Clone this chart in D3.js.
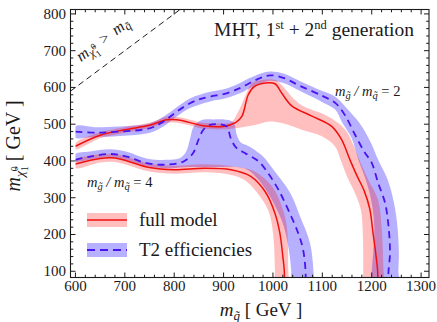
<!DOCTYPE html>
<html><head><meta charset="utf-8">
<script src="https://cdn.jsdelivr.net/npm/d3@7"></script>
<style>
body{margin:0;background:#fff}
</style></head><body>
<svg id="chart" width="437" height="322" font-family="'Liberation Serif', 'Times New Roman', 'DejaVu Serif', serif"></svg>
<script>
// Exclusion contours in the squark / neutralino mass plane (GeV)
const xTicks = [600, 700, 800, 900, 1000, 1100, 1200, 1300];
const yTicks = [100, 200, 300, 400, 500, 600, 700, 800];

// m_gluino / m_squark = 2 : full model (central line and band edges)
const full2Line = [[600,440],[650,470],[700,485],[750,497],[785,512],[805,512],[830,505],[858,496],[900,494],[925,505],[937,521],[950,580],[962,602],[985,612],[1004,610],[1018,584],[1038,550],[1079,522],[1119,494],[1139,458],[1156,403],[1170,360],[1185,318],[1196,270],[1203,200],[1208,150],[1212,100],[1212,70]];
const full2Hi = [[600,448],[650,478],[700,492],[750,504],[785,520],[805,520],[830,513],[858,504],[895,502],[915,505],[932,540],[945,580],[958,612],[980,621],[1005,620],[1020,603],[1040,572],[1060,550],[1106,525],[1132,503],[1150,478],[1164,440],[1175,403],[1193,349],[1213,294],[1220,222],[1224,100],[1225,60]];
const full2Lo = [[600,432],[650,462],[700,477],[750,490],[785,504],[805,504],[830,497],[858,488],[900,486],[923,489],[963,498],[990,507],[1018,503],[1058,485],[1099,467],[1126,439],[1137,403],[1150,358],[1166,313],[1178,267],[1182,200],[1183,100],[1183,60]];

// m_gluino / m_squark = 2 : T2 efficiencies
const t2Line2 = [[600,480],[643,477],[690,480],[751,489],[778,507],[805,534],[832,557],[852,568],[873,575],[906,584],[933,598],[953,612],[975,626],[994,633],[1021,626],[1055,604],[1100,577],[1126,558],[1146,524],[1166,472],[1185,425],[1200,395],[1213,340],[1227,286],[1234,222],[1237,150],[1234,100],[1233,70]];
const t2Hi2 = [[600,494],[640,492],[690,494],[750,502],[778,520],[805,546],[832,570],[873,588],[906,597],[933,612],[953,626],[990,643],[1021,638],[1055,617],[1100,590],[1126,575],[1155,535],[1180,494],[1200,445],[1213,403],[1232,350],[1245,286],[1252,222],[1255,150],[1254,100],[1254,60]];
const t2Lo2 = [[600,463],[620,463],[643,465],[690,468],[751,477],[778,494],[805,521],[832,544],[873,562],[906,571],[933,584],[953,598],[994,618],[1021,612],[1055,590],[1100,560],[1126,540],[1140,505],[1160,460],[1173,403],[1190,340],[1200,285],[1205,222],[1203,150],[1200,100],[1200,60]];

// m_gluino / m_squark = 4 : full model
const full4Line = [[600,392],[650,407],[680,408],[705,400],[750,382],[800,376],[860,380],[915,376],[955,358],[985,315],[1004,258],[1014,204],[1020,140],[1023,100],[1023,70]];
const full4Hi = [[600,402],[650,418],[680,419],[705,411],[750,393],[800,387],[860,391],[915,386],[963,371],[998,331],[1018,276],[1028,222],[1031,100],[1031,60]];
const full4Lo = [[600,381],[650,396],[680,397],[705,389],[750,371],[800,365],[860,369],[915,362],[940,350],[963,322],[990,267],[1000,204],[1004,100],[1004,60]];

// m_gluino / m_squark = 4 : T2 efficiencies
const t2Line4 = [[600,403],[630,412],[670,419],[704,412],[744,394],[785,390],[818,398],[838,421],[849,457],[859,485],[872,498],[890,500],[906,494],[915,460],[925,437],[945,420],[970,400],[990,367],[1011,322],[1031,267],[1051,204],[1061,159],[1066,100],[1066,70]];
const t2Hi4 = [[600,419],[630,426],[670,432],[704,425],[744,407],[785,403],[812,408],[824,425],[832,460],[840,495],[855,511],[880,513],[905,512],[920,505],[927,470],[935,450],[953,439],[980,412],[1001,376],[1035,313],[1055,249],[1075,177],[1082,100],[1082,60]];
const t2Lo4 = [[600,399],[630,404],[670,410],[704,402],[744,386],[785,380],[820,383],[880,383],[930,383],[950,375],[970,350],[990,312],[1008,267],[1022,222],[1032,160],[1037,100],[1038,60]];

const x = d3.scaleLinear().domain([590, 1316]).range([70.5, 429]);
const y = d3.scaleLinear().domain([83, 812]).range([277.5, 9.5]);

const svg = d3.select("#chart");
const [x0, x1] = x.range(), [y0, y1] = y.range();
const INK = "#1a1a1a";

const defs = svg.append("defs");
defs.append("clipPath").attr("id", "plot")
  .append("rect").attr("x", x(600)).attr("y", y1).attr("width", x1 - x(600)).attr("height", y0 - y1);
defs.append("clipPath").attr("id", "frame")
  .append("rect").attr("x", x0).attr("y", y1).attr("width", x1 - x0).attr("height", y0 - y1);

const curveLine = d3.line().x(d => x(d[0])).y(d => y(d[1])).curve(d3.curveCatmullRom.alpha(0.5));
const bandPath = d3.line().x(d => x(d[0])).y(d => y(d[1])).curve(d3.curveCatmullRomClosed.alpha(0.5));

const RED = "#f01010", BLUE = "#4a14ee";
const PINK_FILL = "rgb(255,0,0)", PINK_OP = 0.25;
const BLUE_FILL = "rgb(30,10,255)", BLUE_OP = 0.32;

const g = svg.append("g").attr("clip-path", "url(#plot)");
// uncertainty bands
[[t2Hi2, t2Lo2], [t2Hi4, t2Lo4]].forEach(([hi, lo]) => {
  g.append("path").attr("d", bandPath(hi.concat(lo.slice().reverse())))
    .attr("fill", BLUE_FILL).attr("fill-opacity", BLUE_OP);
});
[[full2Hi, full2Lo], [full4Hi, full4Lo]].forEach(([hi, lo]) => {
  g.append("path").attr("d", bandPath(hi.concat(lo.slice().reverse())))
    .attr("fill", PINK_FILL).attr("fill-opacity", PINK_OP);
});
// central contours
[full2Line, full4Line].forEach(l => g.append("path").attr("d", curveLine(l))
  .attr("fill", "none").attr("stroke", RED).attr("stroke-width", 1.5));
[t2Line2, t2Line4].forEach(l => g.append("path").attr("d", curveLine(l))
  .attr("fill", "none").attr("stroke", BLUE).attr("stroke-width", 1.8).attr("stroke-dasharray", "7,5"));

// kinematic boundary m_chi = m_squark
svg.append("g").attr("clip-path", "url(#frame)")
  .append("line").attr("x1", x(590)).attr("y1", y(590)).attr("x2", x(820)).attr("y2", y(820))
  .attr("stroke", INK).attr("stroke-width", 1).attr("stroke-dasharray", "6,4");

const ang = Math.atan2(y(700) - y(600), x(700) - x(600)) * 180 / Math.PI;
const diag = svg.append("text").attr("transform", `translate(81,62) rotate(${ang})`)
  .attr("text-anchor", "start").attr("font-size", 16).attr("fill", INK);
diag.append("tspan").attr("font-style", "italic").text("m");
diag.append("tspan").attr("font-style", "italic").attr("font-size", 12).attr("dy", 3).text("χ̃");
diag.append("tspan").attr("font-size", 9).attr("dy", -5).text("0");
diag.append("tspan").attr("font-size", 9).attr("dx", -4.5).attr("dy", 8.5).text("1");
diag.append("tspan").attr("dy", -6.5).attr("dx", 7).text(">");
diag.append("tspan").attr("font-style", "italic").attr("dx", 7).text("m");
diag.append("tspan").attr("font-style", "italic").attr("font-size", 12).attr("dy", 3).text("q̃");

// frame with inward ticks on all four sides
const frame = svg.append("g");
const xMinor = d3.range(600, 1301, 20), yMinor = d3.range(100, 801, 20);
xMinor.forEach(v => {
  const L = v % 100 === 0 ? 5 : 2.8;
  frame.append("line").attr("x1", x(v)).attr("x2", x(v)).attr("y1", y0).attr("y2", y0 - L).attr("stroke", INK);
  frame.append("line").attr("x1", x(v)).attr("x2", x(v)).attr("y1", y1).attr("y2", y1 + L).attr("stroke", INK);
});
yMinor.forEach(v => {
  const L = v % 100 === 0 ? 5 : 2.8;
  frame.append("line").attr("y1", y(v)).attr("y2", y(v)).attr("x1", x0).attr("x2", x0 + L).attr("stroke", INK);
  frame.append("line").attr("y1", y(v)).attr("y2", y(v)).attr("x1", x1).attr("x2", x1 - L).attr("stroke", INK);
});
frame.append("rect").attr("x", x0).attr("y", y1).attr("width", x1 - x0).attr("height", y0 - y1)
  .attr("fill", "none").attr("stroke", INK).attr("stroke-width", 1.1);

xTicks.forEach(v => svg.append("text").attr("x", x(v)).attr("y", 291).attr("text-anchor", "middle")
  .attr("font-size", 15).attr("fill", INK).text(v));
yTicks.forEach(v => svg.append("text").attr("x", 66).attr("y", y(v) + 5).attr("text-anchor", "end")
  .attr("font-size", 15).attr("fill", INK).text(v));

// axis titles
const xl = svg.append("text").attr("x", 261).attr("y", 316).attr("text-anchor", "middle").attr("font-size", 19).attr("fill", INK);
xl.append("tspan").attr("font-style", "italic").text("m");
xl.append("tspan").attr("font-style", "italic").attr("font-size", 13).attr("dy", 4).text("q̃");
xl.append("tspan").attr("dy", -4).text(" [ GeV ]");

const yl = svg.append("text").attr("transform", "translate(20,146) rotate(-90)").attr("text-anchor", "middle").attr("font-size", 20).attr("fill", INK);
yl.append("tspan").attr("font-style", "italic").text("m");
yl.append("tspan").attr("font-style", "italic").attr("font-size", 13.5).attr("dy", 4).text("χ̃");
yl.append("tspan").attr("font-size", 10).attr("dy", -6.5).text("0");
yl.append("tspan").attr("font-size", 10).attr("dx", -5).attr("dy", 10).text("1");
yl.append("tspan").attr("dy", -7.5).text(" [ GeV ]");

// title
const tt = svg.append("text").attr("x", 414).attr("y", 36).attr("text-anchor", "end").attr("font-size", 19.5).attr("fill", INK);
tt.append("tspan").text("MHT, 1");
tt.append("tspan").attr("font-size", 12.5).attr("dy", -7).text("st");
tt.append("tspan").attr("dy", 7).text(" + 2");
tt.append("tspan").attr("font-size", 12.5).attr("dy", -7).text("nd");
tt.append("tspan").attr("dy", 7).text(" generation");

// mass-ratio annotations
function ratioLabel(px, py, val) {
  const t = svg.append("text").attr("x", px).attr("y", py).attr("font-size", 14.5).attr("fill", INK);
  t.append("tspan").attr("font-style", "italic").text("m");
  t.append("tspan").attr("font-style", "italic").attr("font-size", 10.5).attr("dy", 3).text("g̃");
  t.append("tspan").attr("dy", -3).attr("font-style", "italic").text(" / m");
  t.append("tspan").attr("font-style", "italic").attr("font-size", 10.5).attr("dy", 3).text("q̃");
  t.append("tspan").attr("dy", -3).text(" = " + val);
}
ratioLabel(335, 96, 2);
ratioLabel(87, 187, 4);

// legend
const legend = [
  {label: "full model", fill: PINK_FILL, op: PINK_OP, stroke: RED, dash: null, w: 1.6},
  {label: "T2 efficiencies", fill: BLUE_FILL, op: BLUE_OP, stroke: BLUE, dash: "8,5", w: 1.8}
];
legend.forEach((d, i) => {
  const cy = 220 + i * 30;
  svg.append("rect").attr("x", 87).attr("y", cy - 7).attr("width", 40).attr("height", 14)
    .attr("fill", d.fill).attr("fill-opacity", d.op);
  svg.append("line").attr("x1", 87).attr("x2", 127).attr("y1", cy).attr("y2", cy)
    .attr("stroke", d.stroke).attr("stroke-width", d.w).attr("stroke-dasharray", d.dash);
  svg.append("text").attr("x", 139).attr("y", cy + 6).attr("font-size", 19).attr("fill", INK).text(d.label);
});
</script>
</body></html>
